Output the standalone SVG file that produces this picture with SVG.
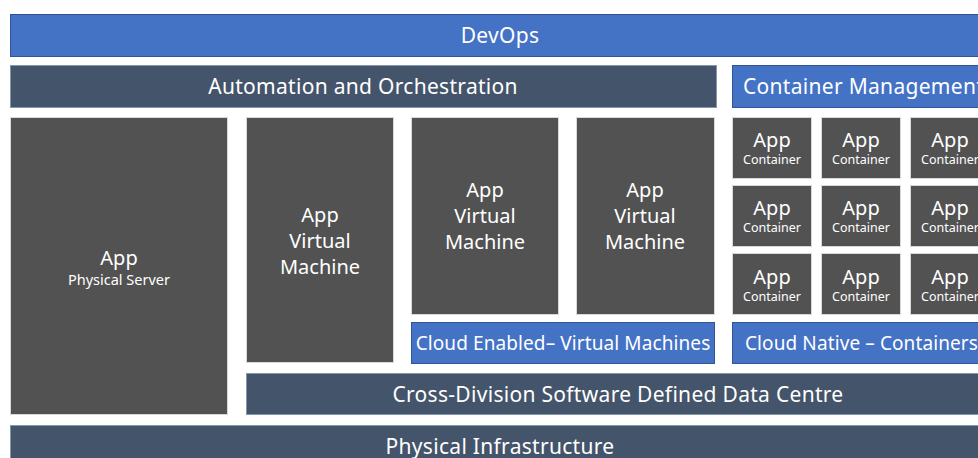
<svg xmlns="http://www.w3.org/2000/svg" width="978" height="458" viewBox="0 0 978 458">
<style>
.blue{fill:#4472C4;stroke:#2F5597;stroke-width:1}
.dark{fill:#44546A;stroke:#8497B0;stroke-width:1}
.grey{fill:#525252;stroke:#D9D9D9;stroke-width:1}
text{font-family:"Noto Sans","Open Sans",sans-serif;fill:#FFFFFF;text-anchor:middle}
.b{font-size:21px;letter-spacing:0.3px}
.l{font-size:20px}
.m{font-size:19px;letter-spacing:0.1px}
.s{font-size:14.5px}
.xs{font-size:12.5px}
</style>
<rect width="978" height="458" fill="#FFFFFF"/>
<g id="devops"><rect class="blue" x="10.5" y="14.5" width="980" height="42"/><text class="b" x="500" y="43">DevOps</text></g>
<g id="automation"><rect class="dark" x="10.5" y="65.5" width="706" height="42"/><text class="b" x="363" y="94">Automation and Orchestration</text></g>
<g id="container-mgmt"><rect class="blue" x="732.5" y="65.5" width="258" height="42"/><text class="b" x="743" y="94" style="text-anchor:start">Container Management</text></g>
<g id="physical-server"><rect class="grey" x="10.5" y="117.5" width="217" height="297"/><text class="l" x="119" y="265">App</text><text class="s" x="119" y="285">Physical Server</text></g>
<g id="vm1"><rect class="grey" x="246.5" y="117.5" width="147" height="245"/><text class="l" x="320" y="222">App</text><text class="l" x="320" y="248">Virtual</text><text class="l" x="320" y="274">Machine</text></g>
<g id="vm2"><rect class="grey" x="411.5" y="117.5" width="147" height="197"/><text class="l" x="485" y="197">App</text><text class="l" x="485" y="223">Virtual</text><text class="l" x="485" y="249">Machine</text></g>
<g id="vm3"><rect class="grey" x="576.5" y="117.5" width="138" height="197"/><text class="l" x="645" y="197">App</text><text class="l" x="645" y="223">Virtual</text><text class="l" x="645" y="249">Machine</text></g>
<g id="c11"><rect class="grey" x="732.5" y="117.5" width="79" height="61"/><text class="l" x="772" y="147">App</text><text class="xs" x="772" y="164">Container</text></g>
<g id="c12"><rect class="grey" x="821.5" y="117.5" width="79" height="61"/><text class="l" x="861" y="147">App</text><text class="xs" x="861" y="164">Container</text></g>
<g id="c13"><rect class="grey" x="910.5" y="117.5" width="79" height="61"/><text class="l" x="950" y="147">App</text><text class="xs" x="950" y="164">Container</text></g>
<g id="c21"><rect class="grey" x="732.5" y="185.5" width="79" height="61"/><text class="l" x="772" y="215">App</text><text class="xs" x="772" y="232">Container</text></g>
<g id="c22"><rect class="grey" x="821.5" y="185.5" width="79" height="61"/><text class="l" x="861" y="215">App</text><text class="xs" x="861" y="232">Container</text></g>
<g id="c23"><rect class="grey" x="910.5" y="185.5" width="79" height="61"/><text class="l" x="950" y="215">App</text><text class="xs" x="950" y="232">Container</text></g>
<g id="c31"><rect class="grey" x="732.5" y="253.5" width="79" height="61"/><text class="l" x="772" y="284">App</text><text class="xs" x="772" y="301">Container</text></g>
<g id="c32"><rect class="grey" x="821.5" y="253.5" width="79" height="61"/><text class="l" x="861" y="284">App</text><text class="xs" x="861" y="301">Container</text></g>
<g id="c33"><rect class="grey" x="910.5" y="253.5" width="79" height="61"/><text class="l" x="950" y="284">App</text><text class="xs" x="950" y="301">Container</text></g>
<g id="cloud-enabled"><rect class="blue" x="411.5" y="322.5" width="303" height="41"/><text class="m" x="563" y="350">Cloud Enabled– Virtual Machines</text></g>
<g id="cloud-native"><rect class="blue" x="732.5" y="322.5" width="258" height="41"/><text class="m" x="745" y="350" style="text-anchor:start">Cloud Native – Containers</text></g>
<g id="sddc"><rect class="dark" x="246.5" y="373.5" width="744" height="41"/><text class="b" x="618" y="402">Cross-Division Software Defined Data Centre</text></g>
<g id="physical-infra"><rect class="dark" x="10.5" y="425.5" width="980" height="42"/><text class="b" x="500" y="454">Physical Infrastructure</text></g>
<g id="connectors"></g>
</svg>
